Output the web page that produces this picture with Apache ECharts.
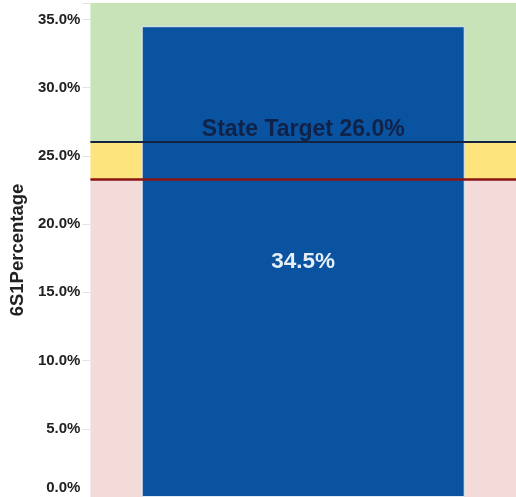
<!DOCTYPE html>
<html><head><meta charset="utf-8">
<script src="https://cdn.jsdelivr.net/npm/echarts@6/dist/echarts.min.js"></script>
<style>html,body{margin:0;padding:0;background:#fff}#c{width:516px;height:497px}</style>
</head><body><div id="c"></div>
<script>
const categories = [''];
const values = [34.5];
const stateTarget = 26.0;
const lowerLine = 23.3;
const bandPink = [0, 23.3];
const bandYellow = [23.3, 26.0];
const bandGreen = [26.0, 36.2];
const yTicks = [0, 5, 10, 15, 20, 25, 30, 35];

const FF = '"Liberation Sans", Arial, sans-serif';
const chart = echarts.init(document.getElementById('c'), null, {renderer: 'canvas'});
chart.setOption({
  animation: false,
  grid: {left: 89, width: 432, top: 3, bottom: 0},
  xAxis: {type: 'category', data: categories, axisLine: {show: false}, axisTick: {show: false}, axisLabel: {show: false}},
  yAxis: {
    type: 'value', min: 0, max: bandGreen[1], interval: 5,
    name: '6S1Percentage', nameLocation: 'middle', nameGap: 60, nameRotate: 90,
    nameTextStyle: {fontFamily: FF, fontWeight: 'bold', fontSize: 18.5, color: '#222'},
    axisLine: {show: false},
    axisTick: {show: true, length: 8, lineStyle: {color: '#e4e4e4'}},
    splitLine: {show: false},
    axisLabel: {
      margin: 10, fontFamily: FF, fontWeight: 'bold', fontSize: 15, color: '#222',
      formatter: function (v) {
        if (yTicks.indexOf(v) < 0) return '';
        if (v === 0) return '{z|0.0%}';
        return v.toFixed(1) + '%';
      },
      rich: {z: {fontFamily: FF, fontWeight: 'bold', fontSize: 15, color: '#222', padding: [0, 0, 18, 0]}}
    }
  },
  series: [
    {
      type: 'line', data: [], z: 1, silent: true,
      markArea: {
        silent: true,
        data: [
          [{yAxis: bandPink[0], itemStyle: {color: '#f3dbda'}}, {yAxis: bandPink[1]}],
          [{yAxis: bandYellow[0], itemStyle: {color: '#fde47c'}}, {yAxis: bandYellow[1]}],
          [{yAxis: bandGreen[0], itemStyle: {color: '#c8e3b7'}}, {yAxis: bandGreen[1]}]
        ]
      }
    },
    {
      type: 'bar', data: values, z: 2, barWidth: 323,
      itemStyle: {color: '#0a53a0', borderColor: '#dfe8f0', borderWidth: 1},
      label: {
        show: true, position: 'inside',
        formatter: function (p) { return p.value.toFixed(1) + '%'; },
        fontFamily: FF, fontWeight: 'bold', fontSize: 22.5, color: '#e6eef8'
      }
    },
    {
      type: 'line', data: [], z: 3, silent: true,
      markLine: {
        silent: true, symbol: 'none',
        data: [
          {yAxis: stateTarget, lineStyle: {color: '#14233f', width: 2, type: 'solid'},
           label: {show: true, position: 'middle', distance: 1, formatter: 'State Target 26.0%',
                   fontFamily: FF, fontWeight: 'bold', fontSize: 23, color: '#112248'}},
          {yAxis: lowerLine, lineStyle: {color: '#8a1414', width: 2.5, type: 'solid'}, label: {show: false}}
        ]
      }
    }
  ]
});
</script></body></html>
